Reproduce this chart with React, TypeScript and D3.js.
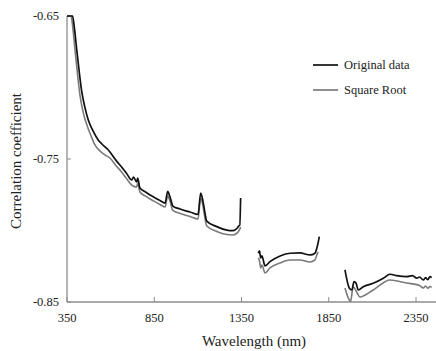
import React from "react";
import * as d3 from "d3";

// Wavelength (nm) and correlation coefficients; null marks a gap (water bands removed)
const origWl: (number | null)[] = [
  350, 382, 392, 406, 420, 433, 450, 472, 500, 529, 550, 568, 583, 596, 630, 663, 690, 721, 731, 749, 755, 768, 800, 826, 855, 883, 912, 927, 940, 957,
  998, 1055, 1101, 1116, 1128, 1135, 1151, 1208, 1265, 1301, 1326, 1333, 1340, 1345, null,
  1446, 1453, 1460, 1467, 1485, 1513, 1571, 1628, 1685, 1743, 1771, 1784, 1796, null,
  1943, 1968, 1982, 1995, 2006, 2019, 2048, 2105, 2163, 2201, 2239, 2297, 2330, 2354, 2370, 2392,
  2405, 2418, 2430, 2440,
];
const origVal: (number | null)[] = [
  -0.65, -0.65, -0.658, -0.6738, -0.689, -0.7017, -0.7125, -0.7227, -0.7305, -0.7367, -0.7395, -0.7416, -0.7432, -0.7451, -0.7508, -0.7556, -0.7598, -0.7647, -0.7626,
  -0.7661, -0.7633, -0.7703, -0.7731, -0.7752, -0.7772, -0.779, -0.7808, -0.7727, -0.7764, -0.7829,
  -0.785, -0.7871, -0.7888, -0.7738, -0.7787, -0.7836, -0.7934, -0.7973, -0.7997, -0.8001, -0.7983,
  -0.7969, -0.7965, -0.7773, null,
  -0.8159, -0.8143, -0.8192, -0.8178, -0.8248, -0.8218, -0.8178, -0.8159, -0.8157, -0.8171, -0.8159,
  -0.8113, -0.8043, null,
  -0.8276, -0.8404, -0.8416, -0.8358, -0.8367, -0.8416, -0.8393, -0.8369, -0.8334, -0.8306, -0.8316,
  -0.8323, -0.8316, -0.8334, -0.8325, -0.8346, -0.833, -0.8344, -0.8323, -0.833,
];

const sqrtWl: (number | null)[] = [
  350, 373, 384, 396, 410, 424, 445, 470, 490, 510, 540, 568, 596, 630, 663, 690, 721, 749, 755, 768, 800, 826, 855, 883, 912, 927, 940, 957,
  998, 1055, 1101, 1116, 1128, 1135, 1151, 1208, 1265, 1301, 1326, 1340, 1345, null,
  1446, 1453, 1460, 1467, 1485, 1513, 1571, 1628, 1685, 1743, 1771, 1784, 1790, null,
  1943, 1962, 1975, 1990, 2010, 2029, 2105, 2201, 2297, 2340, 2370, 2392, 2405, 2418, 2430, 2440,
];
const sqrtVal: (number | null)[] = [
  -0.65, -0.65, -0.659, -0.6738, -0.6905, -0.7052, -0.7185, -0.7283, -0.7345, -0.7402, -0.7445, -0.7472, -0.7493, -0.7545, -0.7591, -0.7635, -0.7682, -0.7696,
  -0.7668, -0.7731, -0.776, -0.778, -0.7800, -0.7818, -0.7836, -0.7759, -0.7794, -0.786,
  -0.7881, -0.7902, -0.792, -0.7773, -0.7822, -0.7871, -0.7969, -0.8007, -0.8028, -0.8031, -0.8017,
  -0.799, -0.7976, null,
  -0.8192, -0.8213, -0.8262, -0.8241, -0.8297, -0.8262, -0.8227, -0.8206, -0.8206, -0.822, -0.8206,
  -0.8164, -0.815, null,
  -0.8402, -0.8472, -0.8497, -0.8393, -0.843, -0.8465, -0.8416, -0.8346, -0.8367, -0.8375, -0.8385,
  -0.8402, -0.8388, -0.8404, -0.8392, -0.8398,
];

const xTicks = [350, 850, 1350, 1850, 2350];
const yTicks = [-0.65, -0.75, -0.85];
const seriesNames = ["Original data", "Square Root"];
const seriesColors = ["#111111", "#7a7a7a"];

const FONT = '"Times New Roman", Tinos, "Liberation Serif", "Noto Serif", "DejaVu Serif", Times, serif';

export default function App() {
  const W = 436;
  const H = 351;
  const x = d3.scaleLinear().domain([350, 2350]).range([67, 416]);
  const y = d3.scaleLinear().domain([-0.85, -0.65]).range([302, 16]);
  const xEnd = 436;

  const toPts = (wl: (number | null)[], v: (number | null)[]) =>
    wl.map((w, i) => ({ w, v: v[i] }));

  const line = d3
    .line<{ w: number | null; v: number | null }>()
    .defined((d) => d.w !== null && d.v !== null)
    .x((d) => x(d.w as number))
    .y((d) => y(d.v as number))
    .curve(d3.curveMonotoneX);

  const series = [
    { pts: toPts(sqrtWl, sqrtVal), color: seriesColors[1], width: 1.6 },
    { pts: toPts(origWl, origVal), color: seriesColors[0], width: 1.7 },
  ];

  const axisColor = "#8c8c8c";
  const textStyle = { fontFamily: FONT };

  return (
    <svg
      width={W}
      height={H}
      style={{ position: "absolute", left: 0, top: 0, background: "#fff" }}
    >
      {/* axes */}
      <line x1={x(350)} x2={x(350)} y1={y(-0.65)} y2={y(-0.85)} stroke={axisColor} strokeWidth={1.3} />
      <line x1={x(350)} x2={xEnd} y1={y(-0.85)} y2={y(-0.85)} stroke={axisColor} strokeWidth={1.3} />
      {yTicks.map((t) => (
        <g key={"y" + t}>
          <line x1={x(350)} x2={x(350) + 4} y1={y(t)} y2={y(t)} stroke={axisColor} strokeWidth={1} />
          <text x={59} y={y(t)} dy="0.35em" textAnchor="end" fontSize={12.5} fill="#222" style={textStyle}>
            {t.toFixed(2)}
          </text>
        </g>
      ))}
      {xTicks.map((t) => (
        <g key={"x" + t}>
          <line x1={x(t)} x2={x(t)} y1={y(-0.85)} y2={y(-0.85) - 5} stroke={axisColor} strokeWidth={1} />
          <text x={x(t)} y={322} textAnchor="middle" fontSize={12.5} fill="#222" style={textStyle}>
            {t}
          </text>
        </g>
      ))}

      {/* data */}
      {series.map((s, i) => (
        <path
          key={i}
          d={line(s.pts) || ""}
          fill="none"
          stroke={s.color}
          strokeWidth={s.width}
          strokeLinejoin="round"
        />
      ))}

      {/* legend */}
      {seriesNames.map((n, i) => (
        <g key={n} transform={`translate(313, ${65 + i * 25})`}>
          <line x1={0} x2={25} y1={0} y2={0} stroke={seriesColors[i]} strokeWidth={1.7} />
          <text x={31} y={0} dy="0.35em" fontSize={12.5} fill="#222" style={textStyle}>
            {n}
          </text>
        </g>
      ))}

      {/* axis titles */}
      <text x={254} y={346} textAnchor="middle" fontSize={15} fill="#222" style={textStyle}>
        Wavelength (nm)
      </text>
      <text
        transform={`translate(21, 161) rotate(-90)`}
        textAnchor="middle"
        fontSize={15}
        fill="#222"
        style={textStyle}
      >
        Correlation coefficient
      </text>
    </svg>
  );
}
